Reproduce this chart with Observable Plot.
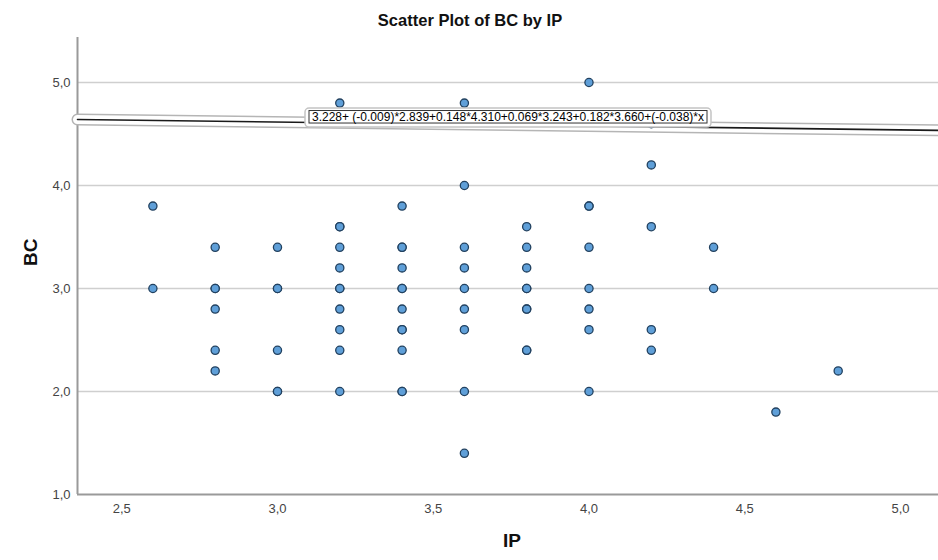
<!DOCTYPE html>
<html>
<head>
<meta charset="utf-8">
<script src="https://cdn.jsdelivr.net/npm/d3@7"></script>
<script src="https://cdn.jsdelivr.net/npm/@observablehq/plot@0.6"></script>
<style>
  body { margin: 0; background: #ffffff; font-family: "Liberation Sans", Arial, sans-serif; }
</style>
</head>
<body>
<div id="chart"></div>
<script>
// Observations: IP (x) and BC (y); repeated pairs are listed once per case.
const ip = [
  2.6, 2.6,
  2.8, 2.8, 2.8, 2.8, 2.8, 2.8,
  3.0, 3.0, 3.0, 3.0, 3.0, 3.0,
  3.2, 3.2, 3.2, 3.2, 3.2, 3.2, 3.2, 3.2, 3.2, 3.2, 3.2,
  3.4, 3.4, 3.4, 3.4, 3.4, 3.4, 3.4, 3.4, 3.4, 3.4, 3.4, 3.4,
  3.6, 3.6, 3.6, 3.6, 3.6, 3.6, 3.6, 3.6, 3.6,
  3.8, 3.8, 3.8, 3.8, 3.8, 3.8, 3.8, 3.8, 3.8,
  4.0, 4.0, 4.0, 4.0, 4.0, 4.0, 4.0, 4.0,
  4.2, 4.2, 4.2, 4.2, 4.2,
  4.4, 4.4,
  4.6,
  4.8
];
const bc = [
  3.8, 3.0,
  3.4, 3.0, 3.0, 2.8, 2.4, 2.2,
  3.4, 3.0, 3.0, 2.4, 2.0, 2.0,
  4.8, 3.6, 3.6, 3.4, 3.2, 3.0, 3.0, 2.8, 2.6, 2.4, 2.0,
  3.8, 3.4, 3.4, 3.2, 3.0, 3.0, 2.8, 2.6, 2.6, 2.4, 2.0, 2.0,
  4.8, 4.0, 3.4, 3.2, 3.0, 2.8, 2.6, 2.0, 1.4,
  3.6, 3.4, 3.2, 3.0, 3.0, 2.8, 2.8, 2.4, 2.4,
  5.0, 3.8, 3.8, 3.4, 3.0, 2.8, 2.6, 2.0,
  4.6, 4.2, 3.6, 2.6, 2.4,
  3.4, 3.0,
  1.8,
  2.2
];

// Tick values and visible ranges
const xTicks = [2.5, 3.0, 3.5, 4.0, 4.5, 5.0];
const yTicks = [1.0, 2.0, 3.0, 4.0, 5.0];
const xDomain = [2.358, 5.122];
const yDomain = [1.0, 5.437];

// Fit line: intercept, covariate coefficients held at their means, slope on IP
const intercept = 3.228;
const covCoefs = [-0.009, 0.148, 0.069, 0.182];
const covMeans = [2.839, 4.310, 3.243, 3.660];
const slope = -0.038;

const titleText = "Scatter Plot of BC by IP";
const xLabel = "IP";
const yLabel = "BC";

const points = ip.map((x, i) => ({ ip: x, bc: bc[i] }));

const base = intercept + d3.sum(covCoefs, (c, i) => c * covMeans[i]);
const fit = xDomain.map(x => ({ ip: x, bc: base + slope * x }));

const coefStr = c => (c < 0 ? `(${c.toFixed(3)})` : c.toFixed(3));
const equation =
  intercept.toFixed(3) + "+ " +
  covCoefs.map((c, i) => `${coefStr(c)}*${covMeans[i].toFixed(3)}`).join("+") +
  "+" + coefStr(slope) + "*x";

const comma = d => d.toFixed(1).replace(".", ",");

const plot = Plot.plot({
  width: 938,
  height: 560,
  marginLeft: 77,
  marginRight: 0,
  marginTop: 37,
  marginBottom: 66,
  style: {
    fontFamily: "'Liberation Sans', Arial, sans-serif",
    fontSize: "13px",
    background: "#ffffff",
    overflow: "visible"
  },
  x: { domain: xDomain },
  y: { domain: yDomain },
  marks: [
    Plot.ruleY(yTicks.slice(1), { stroke: "#cfcfcf", strokeWidth: 1.5 }),
    Plot.ruleX([xDomain[0]], { stroke: "#9a9a9a", strokeWidth: 2 }),
    Plot.ruleY([yDomain[0]], { stroke: "#9a9a9a", strokeWidth: 2 }),
    Plot.axisY({ ticks: yTicks, tickSize: 0, tickPadding: 7, tickFormat: comma, fill: "#444", fontSize: 13, label: null }),
    Plot.axisX({ ticks: xTicks, tickSize: 0, tickPadding: 9, tickFormat: comma, fill: "#444", fontSize: 13, label: null }),
    // fit line with its selection halo
    Plot.line(fit, { x: "ip", y: "bc", stroke: "#b5b5b5", strokeWidth: 12, strokeLinecap: "round", clip: false }),
    Plot.line(fit, { x: "ip", y: "bc", stroke: "#ffffff", strokeWidth: 9, strokeLinecap: "round", clip: false }),
    Plot.line(fit, { x: "ip", y: "bc", stroke: "#1a1a1a", strokeWidth: 1.6 }),
    Plot.dot(points, { x: "ip", y: "bc", r: 4.1, fill: "#5f9fd8", stroke: "#22415f", strokeWidth: 1.3 }),
    Plot.text([equation], { frameAnchor: "top", dy: 75, fontSize: 12, fill: "#000" }),
    Plot.text([titleText], { frameAnchor: "top", dx: -38, dy: -23, fontSize: 16.5, fontWeight: "bold", fill: "#111" }),
    Plot.text([yLabel], { frameAnchor: "left", dx: -47, rotate: -90, fontSize: 19, fontWeight: "bold", fill: "#111" }),
    Plot.text([xLabel], { frameAnchor: "bottom", dx: 4, dy: 52, fontSize: 19, fontWeight: "bold", fill: "#111" })
  ]
});

document.getElementById("chart").appendChild(plot);

// Frame the equation label with a boxed, haloed background
d3.select(plot).selectAll("text")
  .filter(function () { return this.textContent === equation; })
  .each(function () {
    const b = this.getBBox();
    const t = this.getAttribute("transform");
    const parent = d3.select(this.parentNode);
    const node = this;
    const outer = parent.insert("rect", () => node)
      .attr("x", b.x - 7).attr("y", b.y - 2)
      .attr("width", b.width + 14).attr("height", b.height + 5)
      .attr("rx", 4).attr("fill", "#ffffff").attr("stroke", "#c4c4c4").attr("stroke-width", 1.5);
    const inner = parent.insert("rect", () => node)
      .attr("x", b.x - 3).attr("y", b.y + 0.5)
      .attr("width", b.width + 6).attr("height", b.height - 1.5)
      .attr("fill", "#ffffff").attr("stroke", "#333").attr("stroke-width", 1);
    if (t) { outer.attr("transform", t); inner.attr("transform", t); }
  });
</script>
</body>
</html>
